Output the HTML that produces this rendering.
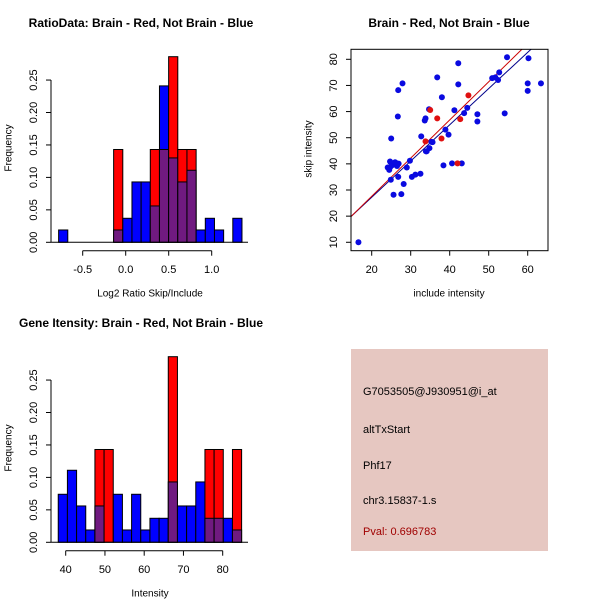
<!DOCTYPE html>
<html><head><meta charset="utf-8"><style>
body{margin:0;background:#fff}
svg{display:block;font-family:"Liberation Sans",Arial,sans-serif}
</style></head><body>
<svg id="svg" width="600" height="600" viewBox="0 0 600 600"></svg>
<script>
// ---------- data ----------
const ratioBlue = [0.019,0,0,0,0,0,0.019,0.037,0.093,0.093,0.056,0.241,0.130,0.093,0.111,0.019,0.037,0.019,0,0.037];
const ratioRed  = [0,0,0,0,0,0,0.143,0,0,0,0.143,0.143,0.286,0.143,0.143,0,0,0,0,0];
const ratioStart = -0.78, ratioBin = 0.1066;
const ratioXTicks = [-0.5,0,0.5,1.0];
const ratioXTickLabels = ["-0.5","0.0","0.5","1.0"];
const freqTicks = [0,0.05,0.10,0.15,0.20,0.25];
const freqTickLabels = ["0.00","0.05","0.10","0.15","0.20","0.25"];

const geneBlue = [0.074,0.111,0.056,0.019,0.056,0,0.074,0.019,0.074,0.019,0.037,0.037,0.093,0.056,0.056,0.093,0.037,0.037,0.037,0.019];
const geneRed  = [0,0,0,0,0.143,0.143,0,0,0,0,0,0,0.286,0,0,0,0.143,0.143,0,0.143];
const geneStart = 38.1, geneBin = 2.336;
const geneXTicks = [40,50,60,70,80];
const geneXTickLabels = ["40","50","60","70","80"];

const blueX = [16.6,25.6,27.6,28.2,24.9,26.8,30.3,31.2,32.5,24.1,24.5,24.8,25.3,26.2,26.5,24.7,26.0,26.9,29.0,29.8,38.4,40.6,43.1,25.0,32.7,34.1,33.9,34.8,35.6,35.3,38.9,39.7,33.6,33.8,34.7,41.2,43.7,44.5,47.1,47.1,38.0,26.7,26.8,27.9,36.8,42.2,42.2,50.9,51.7,52.7,52.4,54.7,60.2,60.0,60.0,63.4,54.1];
const blueY = [10,28.2,28.4,32.3,33.9,35,35,35.9,36.2,38.6,37.7,38.9,39.5,40.3,39.2,40.9,40.6,40.1,38.6,41.2,39.4,40.2,40.2,49.7,50.5,44.8,44.8,46,48.3,48.4,53.1,51.2,56.6,57.4,60.9,60.5,59.4,61.4,59,56.2,65.5,58.1,68.2,70.8,73.1,78.5,70.4,72.8,73.1,75,72.1,80.8,80.4,70.8,67.9,70.8,59.3];
const redX = [33.8,36.8,37.9,35.0,42.0,42.7,44.8];
const redY = [48.6,57.4,49.7,60.6,40.2,57.1,66.2];
const redLine = [1.46,-1.6];   // slope, intercept
const blueLine = [1.386,-0.5];
const scatXTicks = [20,30,40,50,60];
const scatYTicks = [10,20,30,40,50,60,70,80];

// ---------- helpers ----------
const svg = document.getElementById('svg');
const NS = 'http://www.w3.org/2000/svg';
function mk(tag, attrs, parent){
  const e = document.createElementNS(NS, tag);
  for (const k in attrs) e.setAttribute(k, attrs[k]);
  (parent||svg).appendChild(e);
  return e;
}
function txt(s, x, y, attrs, parent){
  const t = mk('text', Object.assign({x:x, y:y, 'font-size':11, 'text-anchor':'middle', 'dominant-baseline':'middle', fill:'#000'}, attrs||{}), parent);
  t.textContent = s;
  return t;
}

function histogram(name, title, oy, blue, red, start, bin, xScale, xTicks, xLabels, xTitle){
  const g = mk('g', {});
  
  
  const y0 = oy + 242.3, pxPer = 649;
  const Y = v => y0 - v * pxPer;
  const t = txt(title, 141, oy + 24, {'font-weight':'bold', 'font-size':12}, g);
  
  
  for (let i = 0; i < blue.length; i++){
    const x1 = xScale(start + i*bin), x2 = xScale(start + (i+1)*bin);
    const b = blue[i], r = red[i];
    const hi = Math.max(b, r), lo = Math.min(b, r);
    if (hi > 0){
      const bar = mk('rect', {x:x1, y:Y(hi), width:x2-x1, height:Y(0)-Y(hi), fill: r > b ? '#ff0000' : '#0000ff', stroke:'#000', 'stroke-width':1}, g);
      
      
    }
    if (lo > 0){
      const ov = mk('rect', {x:x1, y:Y(lo), width:x2-x1, height:Y(0)-Y(lo), fill:'#701a80', stroke:'#000', 'stroke-width':1}, g);
      
      
    }
  }
  mk('line', {x1:51, x2:248, y1:y0, y2:y0, stroke:'#000'}, g);
  // y axis
  mk('line', {x1:51, x2:51, y1:Y(0), y2:Y(0.25), stroke:'#000'}, g);
  freqTicks.forEach((v,i) => {
    mk('line', {x1:46, x2:51, y1:Y(v), y2:Y(v), stroke:'#000'}, g);
    txt(freqTickLabels[i], 34, Y(v), {transform:`rotate(-90 34 ${Y(v)})`}, g);
  });
  const yl = txt('Frequency', 9, oy + 148, {transform:`rotate(-90 9 ${oy+148})`, 'font-size':10}, g);
  
  
  // x axis
  const ay = oy + 250.7;
  mk('line', {x1:xScale(xTicks[0]), x2:xScale(xTicks[xTicks.length-1]), y1:ay, y2:ay, stroke:'#000'}, g);
  xTicks.forEach((v,i) => {
    mk('line', {x1:xScale(v), x2:xScale(v), y1:ay, y2:ay+5, stroke:'#000'}, g);
    txt(xLabels[i], xScale(v), oy + 270, {}, g);
  });
  const xl = txt(xTitle, 150, oy + 294, {'font-size':10}, g);
  
  
}

histogram('ratio-histogram', 'RatioData: Brain - Red, Not Brain - Blue', 0, ratioBlue, ratioRed, ratioStart, ratioBin,
  v => 125.7 + v * 86, ratioXTicks, ratioXTickLabels, 'Log2 Ratio Skip/Include');
histogram('gene-intensity-histogram', 'Gene Itensity: Brain - Red, Not Brain - Blue', 300, geneBlue, geneRed, geneStart, geneBin,
  v => 65.7 + (v - 40) * 3.925, geneXTicks, geneXTickLabels, 'Intensity');

// ---------- scatter ----------
(function(){
  const g = mk('g', {});
  
  
  const X = v => 371.7 + (v - 20) * 3.9;
  const Y = v => 59.3 - (v - 80) * 2.614;
  const L = 351, R = 548, T = 49.3, B = 250.7;
  const t = txt('Brain - Red, Not Brain - Blue', 449, 24, {'font-weight':'bold', 'font-size':12}, g);
  
  
  mk('clipPath', {id:'clip'}, g);
  mk('rect', {x:L, y:T, width:R-L, height:B-T}, document.getElementById('clip'));
  const pts = mk('g', {'clip-path':'url(#clip)'}, g);
  const xmin = 14.7, xmax = 65;
  [[blueLine,'#00008b'],[redLine,'#cc0000']].forEach(([ln,c]) => {
    const l = mk('line', {x1:X(xmin), y1:Y(ln[0]*xmin+ln[1]), x2:X(xmax), y2:Y(ln[0]*xmax+ln[1]), stroke:c, 'stroke-width':1}, pts);
    
    
  });
  blueX.forEach((x,i) => {
    const c = mk('circle', {cx:X(x), cy:Y(blueY[i]), r:3, fill:'#0a0ae0'}, pts);
    
    
  });
  redX.forEach((x,i) => {
    const c = mk('circle', {cx:X(x), cy:Y(redY[i]), r:3, fill:'#e01010'}, pts);
    
    
  });
  mk('rect', {x:L, y:T, width:R-L, height:B-T, fill:'none', stroke:'#000'}, g);
  scatXTicks.forEach(v => {
    mk('line', {x1:X(v), x2:X(v), y1:B, y2:B+5, stroke:'#000'}, g);
    txt(String(v), X(v), 270, {}, g);
  });
  scatYTicks.forEach(v => {
    mk('line', {x1:L-5, x2:L, y1:Y(v), y2:Y(v), stroke:'#000'}, g);
    txt(String(v), 334, Y(v), {transform:`rotate(-90 334 ${Y(v)})`}, g);
  });
  const xl = txt('include intensity', 449, 294, {'font-size':10}, g);
  
  
  const yl = txt('skip intensity', 309, 149, {'font-size':10, transform:'rotate(-90 309 149)'}, g);
  
  
})();

// ---------- info panel ----------
(function(){
  const g = mk('g', {});
  
  
  mk('rect', {x:351, y:349, width:197, height:202, fill:'#e6c7c1'}, g);
  const lines = ['G7053505@J930951@i_at','altTxStart','Phf17','chr3.15837-1.s','Pval: 0.696783'];
  const ys = [392,430,466,501,532];
  lines.forEach((s,i) => {
    const t = txt(s, 363, ys[i], {'text-anchor':'start', 'font-size':11, fill: i===4 ? '#a00000' : '#000'}, g);
    
    
  });
})();
</script>
</body></html>
